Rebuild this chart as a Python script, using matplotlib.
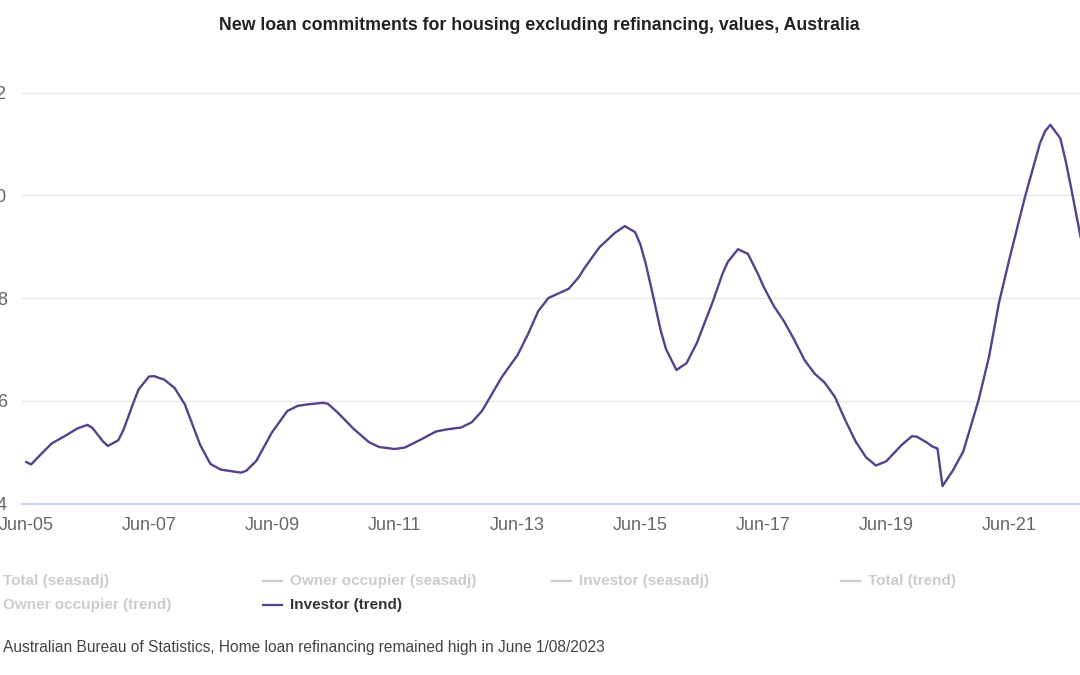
import matplotlib
matplotlib.use("Agg")
import matplotlib.pyplot as plt
from matplotlib.lines import Line2D
import pandas as pd

# ---------------- data ----------------
title = "New loan commitments for housing excluding refinancing, values, Australia"
source = "Australian Bureau of Statistics, Home loan refinancing remained high in June 1/08/2023"

months = [
    "2005-06", "2005-07", "2005-09", "2005-11", "2006-02", "2006-04", "2006-06", "2006-07",
    "2006-09", "2006-10", "2006-12", "2007-01", "2007-03", "2007-04", "2007-06", "2007-07",
    "2007-09", "2007-11", "2008-01", "2008-02", "2008-04", "2008-06", "2008-08", "2008-10",
    "2008-12", "2009-01", "2009-03", "2009-06", "2009-09", "2009-11", "2010-01", "2010-04",
    "2010-05", "2010-07", "2010-10", "2011-01", "2011-03", "2011-06", "2011-08", "2011-11",
    "2012-02", "2012-04", "2012-07", "2012-09", "2012-11", "2013-01", "2013-03", "2013-06",
    "2013-08", "2013-10", "2013-12", "2014-04", "2014-06", "2014-07", "2014-10", "2015-01",
    "2015-03", "2015-05", "2015-06", "2015-07", "2015-08", "2015-10", "2015-11", "2016-01",
    "2016-03", "2016-05", "2016-08", "2016-10", "2016-11", "2017-01", "2017-03", "2017-05",
    "2017-06", "2017-08", "2017-10", "2017-12", "2018-02", "2018-04", "2018-06", "2018-08",
    "2018-10", "2018-12", "2019-02", "2019-04", "2019-06", "2019-09", "2019-11", "2019-12",
    "2020-02", "2020-03", "2020-04", "2020-05", "2020-07", "2020-09", "2020-12", "2021-02",
    "2021-04", "2021-06", "2021-09", "2021-11", "2021-12", "2022-01", "2022-02", "2022-04",
    "2022-05", "2022-06", "2022-08",
]
investor_trend = [
    4.81, 4.76, 4.97, 5.17, 5.34, 5.46, 5.53, 5.47,
    5.21, 5.12, 5.23, 5.43, 5.96, 6.22, 6.47, 6.48,
    6.41, 6.25, 5.93, 5.66, 5.14, 4.77, 4.66, 4.63,
    4.60, 4.64, 4.83, 5.38, 5.80, 5.90, 5.93, 5.96,
    5.94, 5.76, 5.45, 5.19, 5.10, 5.06, 5.09, 5.24,
    5.40, 5.44, 5.48, 5.58, 5.80, 6.14, 6.47, 6.89,
    7.29, 7.74, 8.00, 8.18, 8.41, 8.57, 8.99, 9.27,
    9.40, 9.28, 9.04, 8.69, 8.25, 7.35, 7.00, 6.60,
    6.73, 7.12, 7.90, 8.47, 8.70, 8.95, 8.86, 8.46,
    8.23, 7.85, 7.55, 7.19, 6.79, 6.53, 6.35, 6.07,
    5.62, 5.21, 4.90, 4.74, 4.82, 5.14, 5.31, 5.30,
    5.18, 5.11, 5.07, 4.34, 4.64, 5.01, 6.01, 6.85,
    7.90, 8.74, 9.94, 10.66, 11.01, 11.25, 11.37, 11.11,
    10.70, 10.20, 9.17,
]

y_ticks = [4, 6, 8, 10, 12]
x_tick_dates = ["2005-06", "2007-06", "2009-06", "2011-06", "2013-06",
                "2015-06", "2017-06", "2019-06", "2021-06"]
x_tick_labels = ["Jun-05", "Jun-07", "Jun-09", "Jun-11", "Jun-13",
                 "Jun-15", "Jun-17", "Jun-19", "Jun-21"]

legend_labels = [
    ["Total (seasadj)", "Owner occupier (seasadj)", "Investor (seasadj)", "Total (trend)"],
    ["Owner occupier (trend)", "Investor (trend)"],
]
legend_active = "Investor (trend)"

# ---------------- styling ----------------
LINE_COLOR = "#57408c"
GRID_COLOR = "#e6e6e6"
AXIS_COLOR = "#ccd6eb"
TICK_COLOR = "#666666"
HIDDEN_COLOR = "#cccccc"
FONT = ["Liberation Sans", "DejaVu Sans"]

plt.rcParams["font.family"] = FONT

W, H = 1080, 675
fig = plt.figure(figsize=(W / 100, H / 100), dpi=100)
fig.patch.set_facecolor("white")

# axes placement (in pixels), intentionally wider than the canvas like the cropped reference
left_px, right_px = 22, 1137
bottom_px, top_px = 503.5, 61.7
ax = fig.add_axes([left_px / W, 1 - bottom_px / H,
                   (right_px - left_px) / W, (bottom_px - top_px) / H])

x = pd.to_datetime(months)
ax.plot(x, investor_trend, color=LINE_COLOR, lw=1.7, solid_joinstyle="round",
        solid_capstyle="round", zorder=3)

ax.set_xlim(pd.Timestamp("2005-05-08"), pd.Timestamp("2023-07-01"))
ax.set_ylim(4, 12.6)

ax.set_yticks(y_ticks)
ax.set_yticklabels([str(v) for v in y_ticks])
ax.set_xticks(pd.to_datetime(x_tick_dates))
ax.set_xticklabels(x_tick_labels)

ax.grid(axis="y", color=GRID_COLOR, lw=0.9, zorder=0)
ax.grid(axis="x", visible=False)
for s in ["top", "right", "left"]:
    ax.spines[s].set_visible(False)
ax.spines["bottom"].set_color(AXIS_COLOR)
ax.spines["bottom"].set_linewidth(1.5)
ax.spines["bottom"].set_zorder(4)
ax.tick_params(axis="both", length=0, labelcolor=TICK_COLOR, labelsize=13)
ax.tick_params(axis="y", pad=10.8)
ax.tick_params(axis="x", pad=10)
for lab in ax.get_yticklabels():
    lab.set_horizontalalignment("right")

renderer = fig.canvas.get_renderer()


def fit_text(t, target_px):
    ext = t.get_window_extent(renderer=renderer)
    t.set_fontsize(t.get_fontsize() * target_px / ext.width)


# title
tt = fig.text(539.5 / W, 1 - 25 / H, title, ha="center", va="center",
              fontsize=12, fontweight="bold", color="#222222")
fit_text(tt, 634)

# legend (manual grid, 4 columns)
col_x = [3, 290, 578.6, 867.8]
row_y = [581, 604.5]
for r, row in enumerate(legend_labels):
    for c, lab in enumerate(row):
        tx = col_x[c]
        ty = 1 - row_y[r] / H
        active = lab == legend_active
        color_line = LINE_COLOR if active else HIDDEN_COLOR
        color_txt = "#333333" if active else HIDDEN_COLOR
        fig.add_artist(Line2D([(tx - 27) / W, (tx - 8) / W], [ty, ty],
                              color=color_line, lw=1.6, transform=fig.transFigure))
        fig.text(tx / W, ty, lab, ha="left", va="center", fontsize=11,
                 fontweight="bold", color=color_txt)

# source
st = fig.text(3 / W, 1 - 647.5 / H, source, ha="left", va="center",
              fontsize=11, color="#444444")
fit_text(st, 603)

fig.savefig("out.png", dpi=100, facecolor="white")
